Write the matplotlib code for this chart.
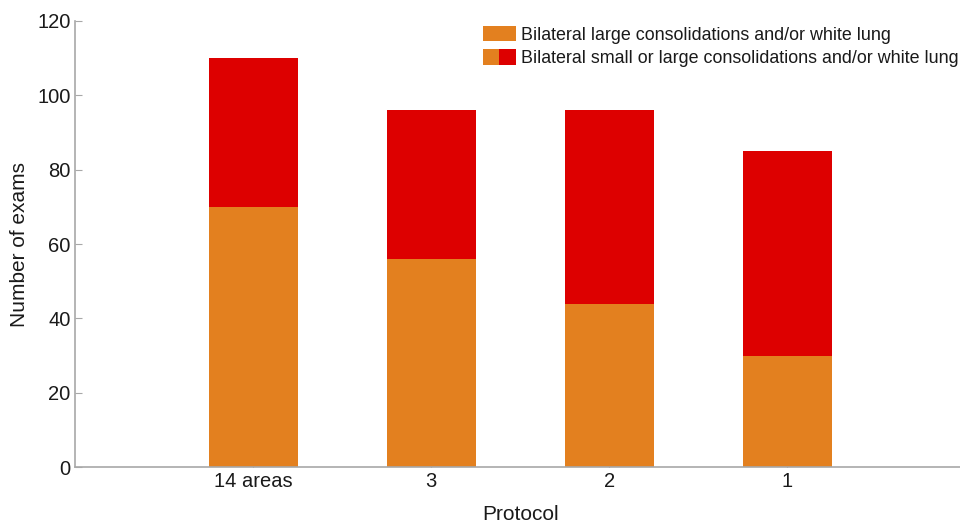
import matplotlib
matplotlib.use("Agg")
import matplotlib.pyplot as plt
from matplotlib.patches import Patch
from matplotlib.legend_handler import HandlerTuple

categories = ["14 areas", "3", "2", "1"]
large = [70, 56, 44, 30]
total = [110, 96, 96, 85]
small_extra = [t - l for t, l in zip(total, large)]

orange = "#E3801F"
red = "#DD0000"
grey = "#A8A8A8"

plt.rcParams['font.family'] = ['Liberation Sans', 'DejaVu Sans']

fig = plt.figure(figsize=(9.6, 5.22), dpi=100)
ax = fig.add_axes([0.0785, 0.105, 0.927, 0.855])

x = list(range(1, len(categories) + 1))
ax.bar(x, large, width=0.5, color=orange, zorder=2)
ax.bar(x, small_extra, bottom=large, width=0.5, color=red, zorder=2)

ax.set_xlim(0, 5)
ax.set_ylim(0, 120)
ax.set_xticks(x)
ax.set_xticklabels(categories)
ax.set_yticks(range(0, 121, 20))
ax.tick_params(direction='in', length=5, labelsize=14.5, colors='#1a1a1a')
ax.tick_params(axis='y', color=grey)
ax.tick_params(axis='x', color='#555555')
for s in ['top', 'right']:
    ax.spines[s].set_visible(False)
for s in ['left', 'bottom']:
    ax.spines[s].set_color(grey)
    ax.spines[s].set_linewidth(1.2)

ax.set_xlabel("Protocol", fontsize=15, color='#1a1a1a', labelpad=10)
ax.set_ylabel("Number of exams", fontsize=15, color='#1a1a1a', labelpad=6)

h1 = Patch(facecolor=orange, edgecolor='none')
h2a = Patch(facecolor=orange, edgecolor='none')
h2b = Patch(facecolor=red, edgecolor='none')
leg = ax.legend([h1, (h2a, h2b)],
                ["Bilateral large consolidations and/or white lung",
                 "Bilateral small or large consolidations and/or white lung"],
                handler_map={tuple: HandlerTuple(ndivide=None, pad=0)},
                loc='upper left', bbox_to_anchor=(0.452, 1.0), frameon=False,
                fontsize=12.9, handlelength=1.84, handleheight=0.93,
                handletextpad=0.28, labelspacing=0.3, borderaxespad=0.0,
                borderpad=0.3)
for t in leg.get_texts():
    t.set_color('#1a1a1a')

fig.savefig("out.png", dpi=100)
